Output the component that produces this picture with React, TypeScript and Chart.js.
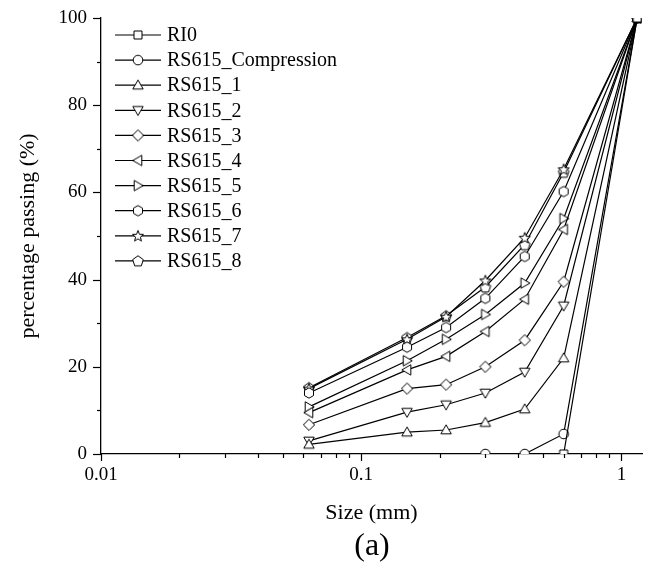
import React, { useEffect, useRef } from "react";
import { Chart, registerables } from "chart.js";

Chart.register(...registerables);

const sizes = [0.063, 0.15, 0.212, 0.3, 0.425, 0.6, 1.15];
const seriesNames = [
  "RI0",
  "RS615_Compression",
  "RS615_1",
  "RS615_2",
  "RS615_3",
  "RS615_4",
  "RS615_5",
  "RS615_6",
  "RS615_7",
  "RS615_8",
];
const RI0 = [null, null, null, null, null, 0, 100];
const RS615_Compression = [null, null, null, 0, 0, 4.6, 100];
const RS615_1 = [2.2, 5.0, 5.5, 7.2, 10.3, 22.0, 100];
const RS615_2 = [3.0, 9.6, 11.3, 14.0, 18.8, 34.0, 100];
const RS615_3 = [6.7, 15.0, 15.9, 20.0, 26.1, 39.5, 100];
const RS615_4 = [9.5, 19.3, 22.4, 28.1, 35.5, 51.5, 100];
const RS615_5 = [10.8, 21.4, 26.3, 32.0, 39.2, 54.0, 100];
const RS615_6 = [14.0, 24.5, 29.0, 35.7, 45.3, 60.2, 100];
const RS615_7 = [15.0, 26.3, 31.5, 39.8, 49.6, 65.3, 100];
const RS615_8 = [15.2, 26.7, 31.7, 38.3, 48.0, 64.6, 100];
const seriesValues = [
  RI0,
  RS615_Compression,
  RS615_1,
  RS615_2,
  RS615_3,
  RS615_4,
  RS615_5,
  RS615_6,
  RS615_7,
  RS615_8,
];
const markerKinds = [
  "square",
  "circle",
  "triUp",
  "triDown",
  "diamond",
  "triLeft",
  "triRight",
  "hexagon",
  "star",
  "pentagon",
];
const xTickValues = [0.01, 0.1, 1];
const yTickValues = [0, 20, 40, 60, 80, 100];

function polygon(ctx: CanvasRenderingContext2D, cx: number, cy: number, r: number, n: number, startDeg: number) {
  ctx.beginPath();
  for (let i = 0; i < n; i++) {
    const a = ((startDeg + (360 / n) * i) * Math.PI) / 180;
    const x = cx + r * Math.cos(a);
    const y = cy + r * Math.sin(a);
    if (i === 0) ctx.moveTo(x, y);
    else ctx.lineTo(x, y);
  }
  ctx.closePath();
}

function makeMarker(kind: string): HTMLCanvasElement {
  const s = 16;
  const c = document.createElement("canvas");
  c.width = s;
  c.height = s;
  const ctx = c.getContext("2d") as CanvasRenderingContext2D;
  const cx = s / 2;
  const cy = s / 2;
  ctx.fillStyle = "#fff";
  ctx.strokeStyle = "#000";
  ctx.lineWidth = 1;
  switch (kind) {
    case "square":
      ctx.beginPath();
      ctx.rect(cx - 4, cy - 4, 8, 8);
      break;
    case "circle":
      ctx.beginPath();
      ctx.arc(cx, cy, 4.8, 0, Math.PI * 2);
      break;
    case "triUp":
      polygon(ctx, cx, cy + 0.8, 6, 3, -90);
      break;
    case "triDown":
      polygon(ctx, cx, cy - 0.8, 6, 3, 90);
      break;
    case "triLeft":
      polygon(ctx, cx + 0.8, cy, 6, 3, 180);
      break;
    case "triRight":
      polygon(ctx, cx - 0.8, cy, 6, 3, 0);
      break;
    case "diamond":
      polygon(ctx, cx, cy, 5.6, 4, -90);
      break;
    case "hexagon":
      polygon(ctx, cx, cy, 5.2, 6, -90);
      break;
    case "pentagon":
      polygon(ctx, cx, cy + 0.4, 5.6, 5, -90);
      break;
    case "star": {
      ctx.beginPath();
      for (let i = 0; i < 10; i++) {
        const r = i % 2 === 0 ? 5.8 : 2.5;
        const a = ((-90 + 36 * i) * Math.PI) / 180;
        const x = cx + r * Math.cos(a);
        const y = cy + 0.5 + r * Math.sin(a);
        if (i === 0) ctx.moveTo(x, y);
        else ctx.lineTo(x, y);
      }
      ctx.closePath();
      break;
    }
  }
  ctx.fill();
  ctx.stroke();
  return c;
}

export default function App() {
  const ref = useRef<HTMLCanvasElement | null>(null);

  useEffect(() => {
    document.body.style.margin = "0";
    const canvas = ref.current;
    if (!canvas) return;
    const markers = markerKinds.map((k) => makeMarker(k));

    const datasets = seriesNames.map((name, i) => ({
      label: name,
      data: sizes
        .map((x, j) => ({ x, y: seriesValues[i][j] }))
        .filter((p) => p.y !== null),
      borderColor: "#000",
      backgroundColor: "#fff",
      borderWidth: 1.2,
      pointStyle: markers[i],
      pointRadius: 5,
      showLine: true,
      tension: 0,
    }));

    const serif = "'Liberation Serif', 'Times New Roman', serif";

    const decor = {
      id: "decor",
      afterDraw(chart: any) {
        const ctx = chart.ctx as CanvasRenderingContext2D;
        const xs = chart.scales.x;
        const ys = chart.scales.y;
        const area = chart.chartArea;
        ctx.save();
        ctx.strokeStyle = "#000";
        ctx.lineWidth = 1.2;
        // x ticks
        for (let d = -2; d <= 0; d++) {
          for (let m = 1; m <= 9; m++) {
            const v = m * Math.pow(10, d);
            if (v > xs.max) continue;
            const px = Math.round(xs.getPixelForValue(v)) + 0.5;
            const len = m === 1 ? 7 : 4;
            ctx.beginPath();
            ctx.moveTo(px, area.bottom);
            ctx.lineTo(px, area.bottom + len);
            ctx.stroke();
          }
        }
        // y ticks
        for (let v = 0; v <= 100; v += 10) {
          const py = Math.round(ys.getPixelForValue(v)) + 0.5;
          const len = v % 20 === 0 ? 8 : 4;
          ctx.beginPath();
          ctx.moveTo(area.left - len, py);
          ctx.lineTo(area.left, py);
          ctx.stroke();
        }
        // legend
        const lx0 = 115;
        const lx1 = 161;
        const mx = 138;
        const tx = 167;
        ctx.font = `20px ${serif}`;
        ctx.textBaseline = "middle";
        ctx.textAlign = "left";
        ctx.fillStyle = "#000";
        seriesNames.forEach((name, i) => {
          const y = 35 + i * 25.1;
          ctx.beginPath();
          ctx.lineWidth = 1.2;
          ctx.moveTo(lx0, y);
          ctx.lineTo(lx1, y);
          ctx.stroke();
          const mk = markers[i];
          ctx.drawImage(mk, mx - mk.width / 2, y - mk.height / 2);
          ctx.fillText(name, tx, y + 1);
        });
        // caption
        ctx.font = `32px ${serif}`;
        ctx.textAlign = "center";
        ctx.fillText("(a)", 372, 547);
        ctx.restore();
      },
    };

    const chart = new Chart(canvas, {
      type: "scatter",
      data: { datasets: datasets as any },
      options: {
        animation: false,
        responsive: false,
        maintainAspectRatio: false,
        layout: { padding: { left: 0, right: 11, top: 18, bottom: 0 } },
        plugins: {
          legend: { display: false },
          tooltip: { enabled: false },
        },
        scales: {
          x: {
            type: "logarithmic",
            min: 0.01,
            max: 1.2,
            afterFit: (s: any) => {
              s.height = 117;
              s.paddingLeft = 0;
              s.paddingRight = 0;
            },
            afterBuildTicks: (s: any) => {
              s.ticks = xTickValues.map((v) => ({ value: v }));
            },
            grid: { display: true, drawOnChartArea: false, drawTicks: false },
            border: { display: true, color: "#000", width: 1.3 },
            ticks: {
              color: "#000",
              font: { family: serif, size: 19 },
              padding: 10,
              maxRotation: 0,
              autoSkip: false,
              callback: (v: any) => String(v),
            },
            title: {
              display: true,
              text: "Size (mm)",
              color: "#000",
              font: { family: serif, size: 22 },
              padding: { top: 0, bottom: 45 },
            },
          },
          y: {
            type: "linear",
            min: 0,
            max: 100,
            afterFit: (s: any) => {
              s.width = 101;
              s.paddingTop = 0;
              s.paddingBottom = 0;
            },
            afterBuildTicks: (s: any) => {
              s.ticks = yTickValues.map((v) => ({ value: v }));
            },
            grid: { display: true, drawOnChartArea: false, drawTicks: false },
            border: { display: true, color: "#000", width: 1.3 },
            ticks: {
              color: "#000",
              font: { family: serif, size: 19 },
              padding: 14,
              callback: (v: any) => String(v),
            },
            title: {
              display: true,
              text: "percentage passing (%)",
              color: "#000",
              font: { family: serif, size: 22 },
              padding: { top: 15, bottom: 0 },
            },
          },
        },
      },
      plugins: [decor],
    });
    return () => chart.destroy();
  }, []);

  return (
    <div style={{ width: 653, height: 571 }}>
      <canvas ref={ref} width={653} height={571} style={{ display: "block", width: 653, height: 571 }} />
    </div>
  );
}
